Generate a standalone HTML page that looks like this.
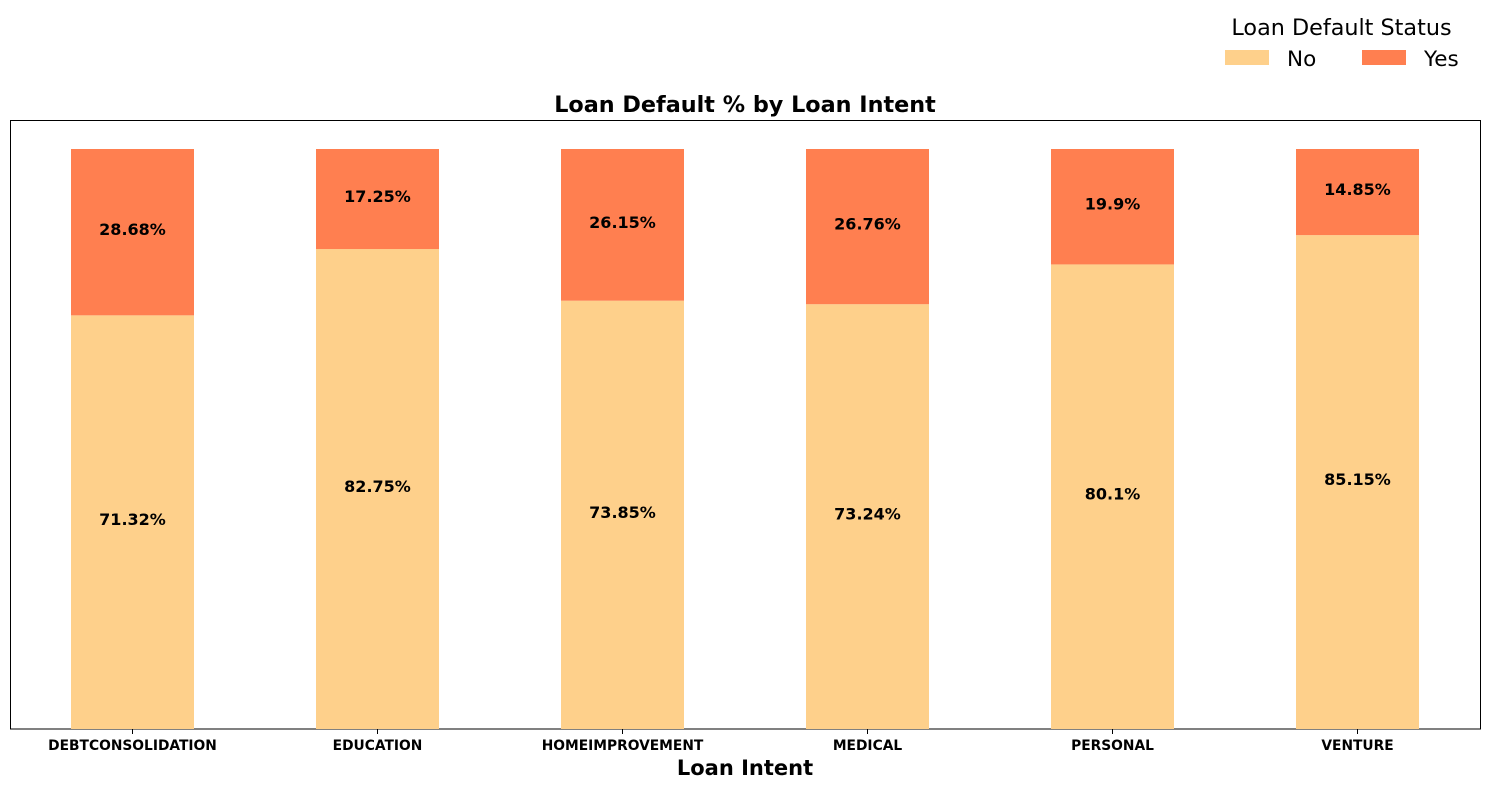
<!DOCTYPE html>
<html><head><meta charset="utf-8">
<style>
body{margin:0;background:#fff;}
svg{display:block;font-family:"DejaVu Sans","Liberation Sans",sans-serif;}
</style></head>
<body>
<svg id="chart" width="1489" height="788" xmlns="http://www.w3.org/2000/svg">
  <text x="745" y="112" text-anchor="middle" font-size="22.3" font-weight="bold">Loan Default % by Loan Intent</text>
  <rect x="10.5" y="120.5" width="1470" height="608.5" fill="none" stroke="#000" stroke-width="1"/>
  <g id="bars"></g>
  <text x="745" y="775" text-anchor="middle" font-size="21" font-weight="bold">Loan Intent</text>
  <g>
    <text x="1341.5" y="35" text-anchor="middle" font-size="22.3">Loan Default Status</text>
    <rect x="1225" y="50" width="44" height="15" fill="#FED08B"/>
    <text x="1287" y="66" font-size="21.5">No</text>
    <rect x="1362" y="50" width="44" height="15" fill="#FF7F50"/>
    <text x="1424" y="66" font-size="21.5">Yes</text>
  </g>
</svg>
<script>
const categories = ["DEBTCONSOLIDATION","EDUCATION","HOMEIMPROVEMENT","MEDICAL","PERSONAL","VENTURE"];
const noValues = [71.32, 82.75, 73.85, 73.24, 80.1, 85.15];
const yesValues = [28.68, 17.25, 26.15, 26.76, 19.9, 14.85];

const ns = "http://www.w3.org/2000/svg";
const plotLeft = 10, plotRight = 1480, plotTop = 120, plotBottom = 729;
const yMax = 105;
const n = categories.length;
const step = (plotRight - plotLeft) / n;
const barW = 123;
function xCenter(i){ return plotLeft + step * (i + 0.5); }
function yPos(v){ return plotBottom - (v / yMax) * (plotBottom - plotTop); }
const g = document.getElementById('bars');
function mk(tag, attrs){ const e = document.createElementNS(ns, tag); for (const k in attrs) e.setAttribute(k, attrs[k]); return e; }

categories.forEach((c, i) => {
  const cx = xCenter(i);
  const y0 = yPos(0), y1 = yPos(noValues[i]), y2 = yPos(noValues[i] + yesValues[i]);
  const rNo = mk('rect', {x: cx - barW/2, y: y1, width: barW, height: y0 - y1, fill: '#FED08B'});
  
  
  g.appendChild(rNo);
  const rYes = mk('rect', {x: cx - barW/2, y: y2, width: barW, height: y1 - y2, fill: '#FF7F50'});
  
  
  g.appendChild(rYes);
  const tNo = mk('text', {x: cx, y: (y0 + y1)/2 + 3, 'text-anchor': 'middle', 'font-size': 16, 'font-weight': 'bold'});
  tNo.textContent = noValues[i] + '%';
  
  
  g.appendChild(tNo);
  const tYes = mk('text', {x: cx, y: (y1 + y2)/2 + 3, 'text-anchor': 'middle', 'font-size': 16, 'font-weight': 'bold'});
  tYes.textContent = yesValues[i] + '%';
  
  
  g.appendChild(tYes);
  const tick = mk('line', {x1: cx, x2: cx, y1: plotBottom, y2: plotBottom + 5, stroke: '#000'});
  
  
  g.appendChild(tick);
  const tl = mk('text', {x: cx, y: plotBottom + 21, 'text-anchor': 'middle', 'font-size': 13.8, 'font-weight': 'bold'});
  tl.textContent = c;
  
  
  g.appendChild(tl);
});
</script>
</body></html>
